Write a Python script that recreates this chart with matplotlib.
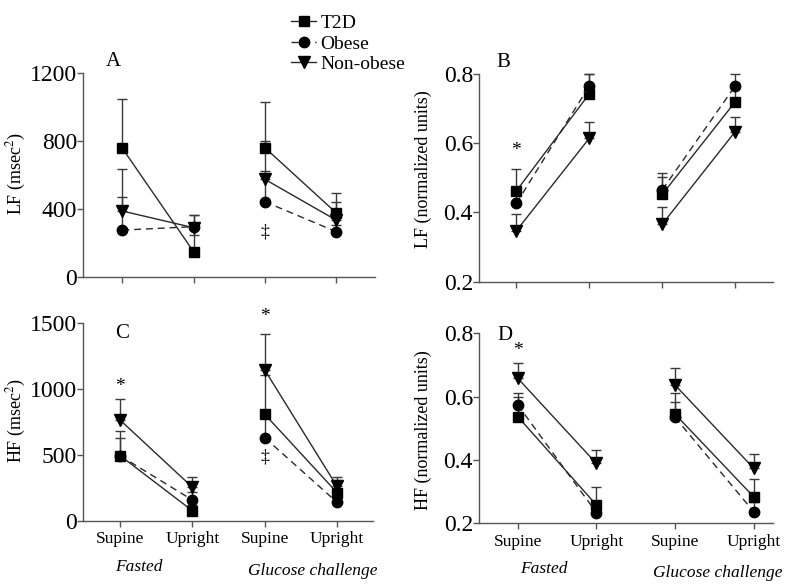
# LF / HF spectral power, supine vs upright, fasted vs glucose challenge
import numpy as np
import matplotlib.pyplot as plt
from matplotlib.lines import Line2D

plt.rcParams['font.family'] = ['Liberation Serif', 'DejaVu Serif']
plt.rcParams['mathtext.fontset'] = 'stix'

# ---- data ----
positions = [1, 2, 3, 4]
pos_labels = ['Supine', 'Upright', 'Supine', 'Upright']
groups = ['T2D', 'Obese', 'Non-obese']

# A: LF (msec^2)
lf_ms_t2d = [757, 149, 761, 378]
lf_ms_t2d_err = [290, 98, 270, 118]
lf_ms_obese = [276, 296, 443, 267]
lf_ms_obese_err = [196, 69, 357, 40]
lf_ms_nonobese = [388, 290, 575, 335]
lf_ms_nonobese_err = [249, 75, 50, 108]

# B: LF (normalized units)
lf_nu_t2d = [0.462, 0.742, 0.452, 0.719]
lf_nu_t2d_err = [0.062, 0.058, 0.051, 0.05]
lf_nu_obese = [0.426, 0.765, 0.465, 0.765]
lf_nu_obese_err = [0.03, 0.035, 0.049, 0.035]
lf_nu_nonobese = [0.347, 0.614, 0.366, 0.633]
lf_nu_nonobese_err = [0.048, 0.046, 0.05, 0.043]

# C: HF (msec^2)
hf_ms_t2d = [496, 78, 810, 215]
hf_ms_t2d_err = [187, 40, 300, 96]
hf_ms_obese = [495, 159, 632, 142]
hf_ms_obese_err = [132, 63, 170, 60]
hf_ms_nonobese = [766, 256, 1146, 262]
hf_ms_nonobese_err = [160, 76, 271, 74]

# D: HF (normalized units)
hf_nu_t2d = [0.537, 0.258, 0.545, 0.284]
hf_nu_t2d_err = [0.061, 0.056, 0.039, 0.055]
hf_nu_obese = [0.574, 0.234, 0.535, 0.237]
hf_nu_obese_err = [0.038, 0.03, 0.077, 0.03]
hf_nu_nonobese = [0.658, 0.389, 0.637, 0.374]
hf_nu_nonobese_err = [0.049, 0.042, 0.052, 0.044]

markers = ['s', 'o', 'v']
msizes = [7.5, 7.5, 8]
lstyles = ['-', (0, (5, 3.5)), '-']
line_col = '#2a2a2a'
err_col = '#3a3a3a'
axis_col = '#555555'

fig = plt.figure(figsize=(8, 5.85), dpi=100)
ax_a = fig.add_axes([0.104, 0.5265, 0.365, 0.3487])
ax_b = fig.add_axes([0.599, 0.5185, 0.3675, 0.3556])
ax_c = fig.add_axes([0.104, 0.1094, 0.3625, 0.338])
ax_d = fig.add_axes([0.599, 0.1055, 0.3675, 0.3248])

panels = [
    (ax_a, [lf_ms_t2d, lf_ms_obese, lf_ms_nonobese],
     [lf_ms_t2d_err, lf_ms_obese_err, lf_ms_nonobese_err],
     (0, 1200), [0, 400, 800, 1200], 'LF (msec$^2$)', (0.45, 4.55)),
    (ax_b, [lf_nu_t2d, lf_nu_obese, lf_nu_nonobese],
     [lf_nu_t2d_err, lf_nu_obese_err, lf_nu_nonobese_err],
     (0.2, 0.8), [0.2, 0.4, 0.6, 0.8], 'LF (normalized units)', (0.49, 4.52)),
    (ax_c, [hf_ms_t2d, hf_ms_obese, hf_ms_nonobese],
     [hf_ms_t2d_err, hf_ms_obese_err, hf_ms_nonobese_err],
     (0, 1500), [0, 500, 1000, 1500], 'HF (msec$^2$)', (0.49, 4.5)),
    (ax_d, [hf_nu_t2d, hf_nu_obese, hf_nu_nonobese],
     [hf_nu_t2d_err, hf_nu_obese_err, hf_nu_nonobese_err],
     (0.2, 0.8), [0.2, 0.4, 0.6, 0.8], 'HF (normalized units)', (0.51, 4.25)),
]

for ax, series, errs, ylim, yticks, ylabel, xlim in panels:
    for i in range(3):
        y = np.array(series[i])
        e = np.array(errs[i])
        ax.errorbar(positions, y, yerr=[np.zeros_like(e), e], fmt='none',
                    ecolor=err_col, elinewidth=1, capsize=3.6, capthick=1,
                    zorder=2, clip_on=False)
        for seg in (slice(0, 2), slice(2, 4)):
            ax.plot(positions[seg], y[seg], color=line_col, lw=1,
                    linestyle=lstyles[i], marker=markers[i], ms=msizes[i],
                    mfc='black', mec='black', zorder=3, clip_on=False)
    ax.set_xlim(*xlim)
    ax.set_ylim(*ylim)
    ax.set_yticks(yticks)
    ax.set_xticks(positions)
    for s in ['top', 'right']:
        ax.spines[s].set_visible(False)
    for s in ['left', 'bottom']:
        ax.spines[s].set_color(axis_col)
        ax.spines[s].set_linewidth(1)
    ax.tick_params(direction='out', length=4, width=1, color=axis_col)
    ax.tick_params(axis='y', labelsize=17, pad=0.5)
    ax.tick_params(axis='x', labelsize=12.5, pad=3.5)
    ax.set_ylabel(ylabel, fontsize=13)

ax_a.yaxis.set_label_coords(-0.19, 0.51)
ax_b.yaxis.set_label_coords(-0.16, 0.54)
ax_c.yaxis.set_label_coords(-0.19, 0.51)
ax_d.yaxis.set_label_coords(-0.16, 0.49)
ax_b.set_yticklabels(['0.2', '0.4', '0.6', '0.8'])
ax_d.set_yticklabels(['0.2', '0.4', '0.6', '0.8'])

# panel letters
for ax, letter, xy in [(ax_a, 'A', (0.103, 1.054)), (ax_b, 'B', (0.082, 1.056)),
                       (ax_c, 'C', (0.134, 0.95)), (ax_d, 'D', (0.088, 0.99))]:
    ax.text(xy[0], xy[1], letter, transform=ax.transAxes, fontsize=15,
            ha='center', va='center')

# x tick labels only on bottom row
ax_a.set_xticklabels([])
ax_b.set_xticklabels([])
ax_c.set_xticklabels(pos_labels)
ax_d.set_xticklabels(pos_labels)

# condition labels
for ax, xf, xg in [(ax_c, 1.26, 3.67), (ax_d, 1.33, 3.55)]:
    ax.annotate('Fasted', xy=(xf, 0), xycoords=('data', 'axes fraction'),
                xytext=(0, -33), textcoords='offset points', ha='center',
                va='center', fontsize=12.5, style='italic', annotation_clip=False)
    ax.annotate('Glucose challenge', xy=(xg, 0), xycoords=('data', 'axes fraction'),
                xytext=(0, -36), textcoords='offset points', ha='center',
                va='center', fontsize=12.5, style='italic', annotation_clip=False)

# significance marks
ax_a.text(3, 263, '\u2021', ha='center', va='center', fontsize=13)
ax_b.text(1, 0.578, '*', ha='center', va='center', fontsize=14)
ax_c.text(1, 1024, '*', ha='center', va='center', fontsize=14)
ax_c.text(3, 1550, '*', ha='center', va='center', fontsize=14, clip_on=False)
ax_c.text(3, 488, '\u2021', ha='center', va='center', fontsize=13)
ax_d.text(1, 0.745, '*', ha='center', va='center', fontsize=14)

# legend
handles = [Line2D([0], [0], color=line_col, lw=1, linestyle=lstyles[i],
                  marker=markers[i], ms=msizes[i], mfc='black', mec='black')
           for i in range(3)]
fig.legend(handles, groups, loc='upper left', bbox_to_anchor=(0.364, 0.975),
           frameon=False, fontsize=14, handlelength=1.3, handletextpad=0.2,
           labelspacing=0.15, borderpad=0, borderaxespad=0)

fig.savefig('out.png', dpi=100)
